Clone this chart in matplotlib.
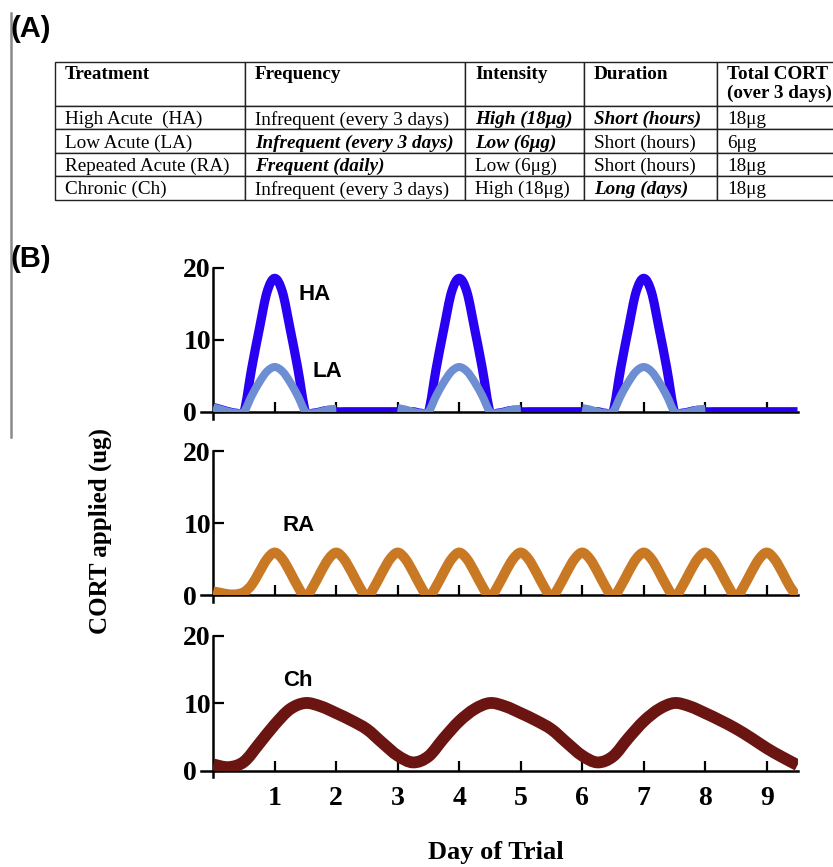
import numpy as np
import matplotlib
matplotlib.use("Agg")
import matplotlib.pyplot as plt
from matplotlib.lines import Line2D
from matplotlib.patches import Rectangle, PathPatch
from matplotlib.path import Path

# ---- table (A) ----
table_header = ["Treatment\n ", "Frequency\n ", "Intensity\n ", "Duration\n ",
                "Total CORT\n(over 3 days)"]
table_rows = [
    ["High Acute  (HA)", "Infrequent (every 3 days)", "High (18μg)", "Short (hours)", "18μg"],
    ["Low Acute (LA)", "Infrequent (every 3 days)", "Low (6μg)", "Short (hours)", "6μg"],
    ["Repeated Acute (RA)", "Frequent (daily)", "Low (6μg)", "Short (hours)", "18μg"],
    ["Chronic (Ch)", "Infrequent (every 3 days)", "High (18μg)", "Long (days)", "18μg"],
]
# body cells printed bold italic: (row, col)
emphasised = [(0, 2), (0, 3), (1, 1), (1, 2), (2, 1), (3, 3)]

# ---- curves (B), values ----
days = np.arange(0, 9.5 + 1e-9, 0.125)      # 8 samples per day
ha = [0.6, 0.3, 0.0, -0.2, 0.0, 6.0, 11.5, 16.6,
      18.5, 16.6, 11.5, 6.0, 0.0, -0.2, 0.0, 0.2,
      0.0, 0.0, 0.0, 0.0, 0.0, 0.0, 0.0, 0.0,
      0.0, 0.0, 0.0, -0.2, 0.0, 6.0, 11.5, 16.6,
      18.5, 16.6, 11.5, 6.0, 0.0, -0.2, 0.0, 0.2,
      0.0, 0.0, 0.0, 0.0, 0.0, 0.0, 0.0, 0.0,
      0.0, 0.0, 0.0, -0.2, 0.0, 6.0, 11.5, 16.6,
      18.5, 16.6, 11.5, 6.0, 0.0, -0.2, 0.0, 0.2,
      0.0, 0.0, 0.0, 0.0, 0.0, 0.0, 0.0, 0.0,
      0.0, 0.0, 0.0, 0.0, 0.0]
nan = np.nan
la = [0.6, 0.3, 0.0, -0.2, 0.0, 2.2, 4.1, 5.6,
      6.2, 5.6, 4.1, 2.2, 0.0, -0.2, 0.0, 0.3,
      0.4, nan, nan, nan, nan, nan, nan, nan,
      0.5, 0.3, 0.0, -0.2, 0.0, 2.2, 4.1, 5.6,
      6.2, 5.6, 4.1, 2.2, 0.0, -0.2, 0.0, 0.3,
      0.4, nan, nan, nan, nan, nan, nan, nan,
      0.5, 0.3, 0.0, -0.2, 0.0, 2.2, 4.1, 5.6,
      6.2, 5.6, 4.1, 2.2, 0.0, -0.2, 0.0, 0.3,
      0.4, nan, nan, nan, nan, nan, nan, nan,
      nan, nan, nan, nan, nan]
ra = [0.5, 0.3, 0.1, 0.1, 0.4, 1.4, 3.2, 5.0,
      5.9, 5.0, 3.2, 1.2, -0.3, 1.2, 3.2, 5.0,
      5.9, 5.0, 3.2, 1.2, -0.3, 1.2, 3.2, 5.0,
      5.9, 5.0, 3.2, 1.2, -0.3, 1.2, 3.2, 5.0,
      5.9, 5.0, 3.2, 1.2, -0.3, 1.2, 3.2, 5.0,
      5.9, 5.0, 3.2, 1.2, -0.3, 1.2, 3.2, 5.0,
      5.9, 5.0, 3.2, 1.2, -0.3, 1.2, 3.2, 5.0,
      5.9, 5.0, 3.2, 1.2, -0.3, 1.2, 3.2, 5.0,
      5.9, 5.0, 3.2, 1.2, -0.3, 1.2, 3.2, 5.0,
      5.9, 5.0, 3.2, 1.2, -0.3]
ch_days = np.arange(0, 9.5 + 1e-9, 0.25)    # 4 samples per day
ch = [0.9, 0.5, 1.3, 4.0,
      6.8, 9.1, 10.0, 9.5,
      8.5, 7.4, 6.1, 4.1,
      2.2, 1.2, 2.1, 4.8,
      7.3, 9.1, 10.0, 9.5,
      8.5, 7.4, 6.1, 4.1,
      2.2, 1.2, 2.1, 4.8,
      7.3, 9.1, 10.0, 9.5,
      8.5, 7.4, 6.2, 4.8,
      3.3, 2.0, 0.8]

yticks = [0, 10, 20]
xticks = [1, 2, 3, 4, 5, 6, 7, 8, 9]

plt.rcParams["font.family"] = "Liberation Serif"
plt.rcParams["font.weight"] = "bold"

fig = plt.figure(figsize=(8.33, 8.67), dpi=100)

# ---- (A) table ----
tax = fig.add_axes([0, 0, 1, 1])
tax.axis("off")
col_px = [190, 220, 119, 133, 133]
tbl = tax.table(cellText=table_rows, colLabels=table_header, colWidths=col_px,
                cellLoc="left", colLoc="left",
                bbox=[55 / 833, 1 - 199.5 / 867, 795 / 833, 137.5 / 867])
tbl.auto_set_font_size(False)
tbl.set_fontsize(13.8)
for (r, c), cell in tbl.get_celld().items():
    cell.set_height(44 if r == 0 else 23.4)
    cell.PAD = 10 / col_px[c]
    cell.set_linewidth(1.0)
    cell.set_edgecolor("#222222")
    t = cell.get_text()
    t.set_fontfamily("Liberation Serif")
    if r == 0:
        t.set_fontweight("bold")
    else:
        t.set_va("center_baseline")
        if (r - 1, c) in emphasised:
            t.set_fontweight("bold")
            t.set_fontstyle("italic")
        else:
            t.set_fontweight("normal")

# ---- (B) panels ----
rects = [
    [0.2412, 0.5168, 0.7162, 0.1788],
    [0.2412, 0.3054, 0.7162, 0.1785],
    [0.2412, 0.1035, 0.7162, 0.1674],
]
axes = [fig.add_axes(r) for r in rects]

for i, ax in enumerate(axes):
    ax.set_xlim(-0.2, 9.5)
    ax.set_ylim(-1, 20.5)
    ax.patch.set_visible(False)
    ax.spines["top"].set_visible(False)
    ax.spines["right"].set_visible(False)
    ax.spines["left"].set_position(("data", 0))
    ax.spines["left"].set_bounds(-1, 20)
    ax.spines["bottom"].set_position(("data", 0))
    ax.spines["bottom"].set_bounds(-0.2, 9.5)
    for s in ("left", "bottom"):
        ax.spines[s].set_linewidth(1.8)
    ax.set_yticks(yticks)
    ax.set_xticks(xticks)
    ax.tick_params(axis="y", direction="in", length=8, width=1.6, labelsize=20, pad=21.5)
    ax.tick_params(axis="x", direction="in", length=7, width=1.6, labelsize=20, pad=11)
    for lbl in ax.get_yticklabels():
        lbl.set_ha("left")
    if i < 2:
        ax.set_xticklabels([])


def smooth_path(x, y):
    # smooth curve through the read values (like the original spline line)
    x = np.asarray(x, float)
    y = np.asarray(y, float)
    verts, codes = [], []
    idx = np.flatnonzero(np.isfinite(y))
    runs = np.split(idx, np.flatnonzero(np.diff(idx) > 1) + 1)
    for run in runs:
        if len(run) < 2:
            continue
        p = np.column_stack([x[run], y[run]])
        ext = np.vstack([p[0], p, p[-1]])
        verts.append(p[0])
        codes.append(Path.MOVETO)
        for k in range(1, len(ext) - 2):
            p0, p1, p2, p3 = ext[k - 1], ext[k], ext[k + 1], ext[k + 2]
            verts += [p1 + (p2 - p0) / 6, p2 - (p3 - p1) / 6, p2]
            codes += [Path.CURVE4] * 3
    return Path(verts, codes)


def draw(ax, x, y, color, lw):
    patch = PathPatch(smooth_path(x, y), facecolor="none", edgecolor=color, lw=lw,
                      joinstyle="round", capstyle="butt", zorder=3,
                      transform=ax.transData)
    ax.add_patch(patch)
    patch.set_clip_path(Rectangle((0, 0), 9.5, 25, transform=ax.transData))
    return patch


draw(axes[0], days, ha, "#2a00f2", 6.6)
draw(axes[0], days, la, "#6e8ed4", 5.8)
draw(axes[1], days, ra, "#c97823", 7.2)
draw(axes[2], ch_days, ch, "#6a1511", 8.5)

lab = dict(fontfamily="Liberation Sans", fontweight="bold", fontsize=16,
           ha="left", va="center")
axes[0].text(1.38, 16.2, "HA", **lab)
axes[0].text(1.62, 5.6, "LA", **lab)
axes[1].text(1.12, 9.7, "RA", **lab)
axes[2].text(1.13, 13.3, "Ch", **lab)

fig.text(100 / 833, 1 - 531 / 867, "CORT applied (ug)", rotation=90,
         ha="center", va="center", fontsize=18, fontweight="bold")
fig.text(496 / 833, 1 - 853 / 867, "Day of Trial", ha="center", va="center",
         fontsize=19, fontweight="bold")

# panel letters and page rule
fig.text(11 / 833, 1 - 29 / 867, "(A)", fontfamily="Liberation Sans",
         fontweight="bold", fontsize=21, ha="left", va="center")
fig.text(11 / 833, 1 - 259 / 867, "(B)", fontfamily="Liberation Sans",
         fontweight="bold", fontsize=21, ha="left", va="center")
fig.add_artist(Line2D([11 / 833, 11 / 833], [1 - 13 / 867, 1 - 437 / 867],
                      color="#8a8a8a", lw=1.8, transform=fig.transFigure))

fig.savefig("out.png", dpi=100)
